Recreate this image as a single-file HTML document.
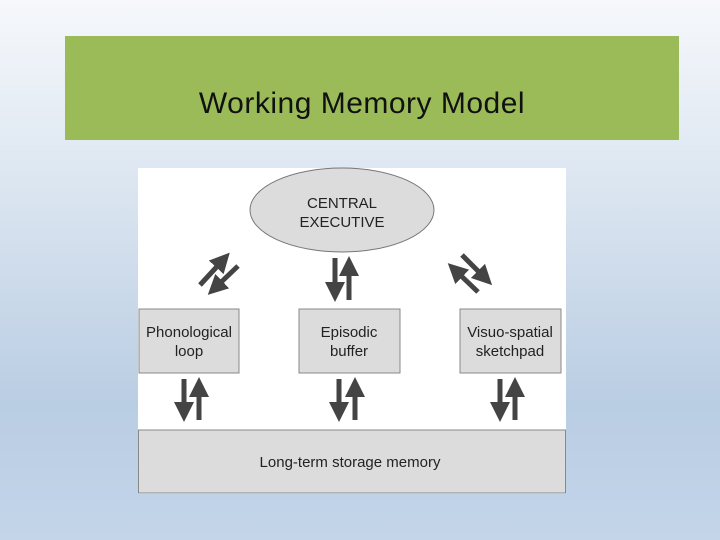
<!DOCTYPE html>
<html><head><meta charset="utf-8"><style>
html,body{margin:0;padding:0}
body{width:720px;height:540px;position:relative;overflow:hidden;font-family:"Liberation Sans",sans-serif;
background:linear-gradient(to bottom,#f6f8fb 0%,#dfe8f2 30%,#b9cde3 75%,#c4d5e9 100%);}
.title{position:absolute;left:65px;top:36px;width:614px;height:104px;background:#9bbb59;}
.title div{position:absolute;left:0;width:100%;top:68px;text-align:center;font-size:30px;color:#111;line-height:0;letter-spacing:0.5px;padding-right:20px;box-sizing:border-box}
svg{position:absolute;left:0;top:0}
</style></head><body>
<div class="title"><div>Working Memory Model</div></div>
<svg width="720" height="540">
<defs>
<marker id="ah" markerWidth="4" markerHeight="4" refX="2" refY="2" orient="auto" markerUnits="strokeWidth">
<path d="M0,0 L4,2 L0,4 Z" fill="#444"/></marker>
</defs>
<rect x="138" y="168" width="428" height="326" fill="#fff"/>
<ellipse cx="342" cy="210" rx="92" ry="42" fill="#dcdcdc" stroke="#777"/>
<text x="342" y="208" text-anchor="middle" font-size="15" fill="#222">CENTRAL</text>
<text x="342" y="227" text-anchor="middle" font-size="15" fill="#222">EXECUTIVE</text>
<g fill="#dcdcdc" stroke="#888">
<rect x="139" y="309" width="100" height="64"/>
<rect x="299" y="309" width="101" height="64"/>
<rect x="460" y="309" width="101" height="64"/>
<rect x="138.5" y="430" width="427" height="63"/>
</g>
<g font-size="15" fill="#222" text-anchor="middle">
<text x="189" y="337">Phonological</text><text x="189" y="356">loop</text>
<text x="349" y="337">Episodic</text><text x="349" y="356">buffer</text>
<text x="510" y="337">Visuo-spatial</text><text x="510" y="356">sketchpad</text>
<text x="350" y="467">Long-term storage memory</text>
</g>
<g stroke="#444" stroke-width="5" marker-end="url(#ah)">
<line x1="335" y1="258" x2="335" y2="292"/>
<line x1="349" y1="300" x2="349" y2="266"/>
<line x1="184" y1="379" x2="184" y2="412"/>
<line x1="199" y1="420" x2="199" y2="387"/>
<line x1="339" y1="379" x2="339" y2="412"/>
<line x1="355" y1="420" x2="355" y2="387"/>
<line x1="500" y1="379" x2="500" y2="412"/>
<line x1="515" y1="420" x2="515" y2="387"/>
<line x1="200" y1="285" x2="223" y2="260"/>
<line x1="238" y1="266" x2="215" y2="288"/>
<line x1="462" y1="255" x2="485" y2="278"/>
<line x1="478" y1="292" x2="455" y2="270"/>
</g>
</svg>
</body></html>
